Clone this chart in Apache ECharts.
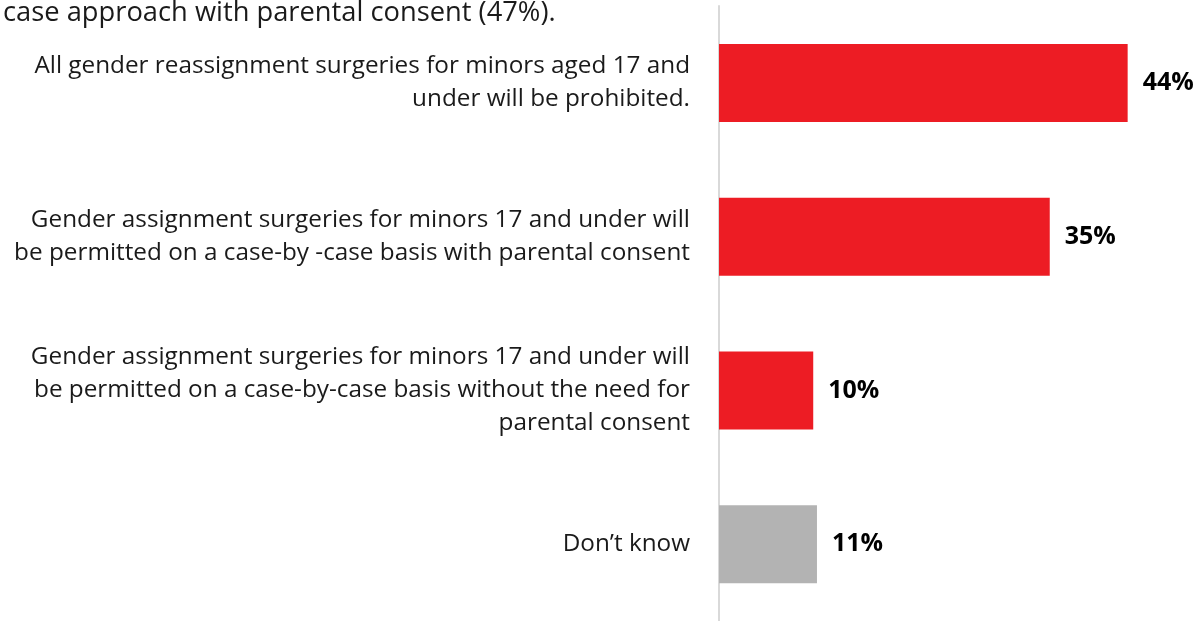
<!DOCTYPE html>
<html>
<head>
<meta charset="utf-8">
<script src="https://cdn.jsdelivr.net/npm/echarts@6/dist/echarts.min.js"></script>
<style>
html,body{margin:0;padding:0;background:#fff;}
#chart{width:1199px;height:621px;}
</style>
</head>
<body>
<div id="chart"></div>
<script>
const titleText = "case approach with parental consent (47%).";
const categories = [
  "All gender reassignment surgeries for minors aged 17 and\nunder will be prohibited.",
  "Gender assignment surgeries for minors 17 and under will\nbe permitted on a case-by -case basis with parental consent",
  "Gender assignment surgeries for minors 17 and under will\nbe permitted on a case-by-case basis without the need for\nparental consent",
  "Don\u2019t know"
];
// bar lengths; labels show them rounded
const values = [43.8, 35.45, 10.1, 10.5];
const dontKnowCategory = "Don\u2019t know";

const RED = "#ED1C24";
const GREY = "#B3B3B3";
const FONT = "'Open Sans', sans-serif";

const chart = echarts.init(document.getElementById('chart'));
chart.setOption({
  animation: false,
  title: {
    text: titleText,
    left: -2,
    top: -5,
    textStyle: { fontFamily: FONT, fontSize: 27.3, fontWeight: "normal", color: "#1a1a1a" }
  },
  grid: { left: 719, right: 13.5, top: 6, bottom: 0, containLabel: false },
  xAxis: {
    type: "value", min: 0, max: 50,
    show: false
  },
  yAxis: {
    type: "category",
    data: categories,
    inverse: true,
    axisLine: { show: true, lineStyle: { color: "#d9d9d9", width: 2 } },
    axisTick: { show: false },
    axisLabel: {
      margin: 29,
      align: "right",
      fontFamily: FONT,
      fontSize: 24.3,
      lineHeight: 33,
      color: "#1a1a1a"
    }
  },
  series: [{
    type: "bar",
    data: values.map((v, i) => ({
      value: v,
      itemStyle: { color: categories[i] === dontKnowCategory ? GREY : RED }
    })),
    barWidth: 78,
    label: {
      show: true,
      position: "right",
      distance: 15,
      formatter: p => Math.round(p.value) + "%",
      fontFamily: FONT,
      fontSize: 25,
      fontWeight: "bold",
      color: "#000"
    }
  }]
});
</script>
</body>
</html>
